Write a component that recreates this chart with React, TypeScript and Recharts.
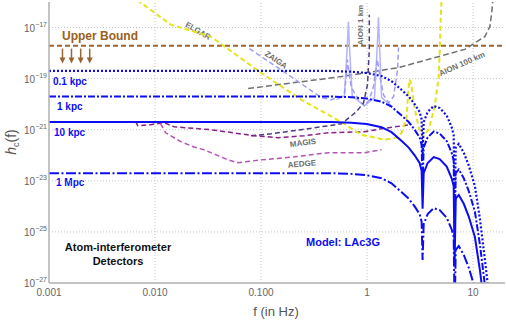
import React from "react";
import { ComposedChart, Line, Scatter, XAxis, YAxis, ReferenceLine } from "recharts";

// axes
const xTicks = [0.001, 0.01, 0.1, 1, 10];
const xTickLabels = ["0.001", "0.010", "0.100", "1", "10"];
const yTicks = [1e-27, 1e-25, 1e-23, 1e-21, 1e-19, 1e-17];
const xGrid = [0.01, 0.1, 1, 10];
const yGrid = [1e-25, 1e-23, 1e-21, 1e-19, 1e-17];

// LAc3G source spectra (Hz, strain)
const srcFreq = [0.001, 0.01, 0.1, 0.46, 0.71, 0.99, 1.37, 1.7, 2.12, 2.47, 2.81, 3.13, 3.27, 3.34, 3.42, 3.73, 4.25, 4.84, 5.64, 6.28, 6.56, 6.7, 6.86, 7.33, 8.17, 9.1, 10.4, 11.6, 12.6, 13.8, 15];
const h01kpc = [2e-19, 2e-19, 2e-19, 2e-19, 1.87e-19, 1.66e-19, 1.26e-19, 8.0e-20, 3.6e-20, 2.0e-20, 1.0e-20, 5.0e-21, 2.5e-21, 8.0e-23, 2.0e-21, 5.0e-21, 8.5e-21, 7.1e-21, 3.6e-21, 1.26e-21, 6.3e-22, 6.3e-25, 2.0e-22, 2.8e-22, 1.26e-22, 4.0e-23, 6.3e-24, 3.2e-25, 2.0e-26, 8.0e-28, 3.2e-29];
const h1kpc = [2e-20, 2e-20, 2e-20, 2e-20, 1.87e-20, 1.66e-20, 1.26e-20, 8.0e-21, 3.6e-21, 2.0e-21, 1.0e-21, 5.0e-22, 2.5e-22, 8.0e-24, 2.0e-22, 5.0e-22, 8.5e-22, 7.1e-22, 3.6e-22, 1.26e-22, 6.3e-23, 6.3e-26, 2.0e-23, 2.8e-23, 1.26e-23, 4.0e-24, 6.3e-25, 3.2e-26, 2.0e-27, 8.0e-29, 3.2e-30];
const h10kpc = [2e-21, 2e-21, 2e-21, 2e-21, 1.87e-21, 1.66e-21, 1.26e-21, 8.0e-22, 3.6e-22, 2.0e-22, 1.0e-22, 5.0e-23, 2.5e-23, 8.0e-25, 2.0e-23, 5.0e-23, 8.5e-23, 7.1e-23, 3.6e-23, 1.26e-23, 6.3e-24, 6.3e-27, 2.0e-24, 2.8e-24, 1.26e-24, 4.0e-25, 6.3e-26, 3.2e-27, 2.0e-28, 8.0e-30, 3.2e-31];
const h1Mpc = [2e-23, 2e-23, 2e-23, 2e-23, 1.87e-23, 1.66e-23, 1.26e-23, 8.0e-24, 3.6e-24, 2.0e-24, 1.0e-24, 5.0e-25, 2.5e-25, 8.0e-27, 2.0e-25, 5.0e-25, 8.5e-25, 7.1e-25, 3.6e-25, 1.26e-25, 6.3e-26, 6.3e-29, 2.0e-26, 2.8e-26, 1.26e-26, 4.0e-27, 6.3e-28, 3.2e-29, 2.0e-30, 8.0e-32, 3.2e-33];

// upper bound
const boundFreq = [0.001, 20];
const boundH = [1.95e-18, 1.95e-18];
const arrowFreq = [0.00134, 0.00163, 0.00199, 0.00242];
const arrowH = [1.5e-18, 1.5e-18, 1.5e-18, 1.5e-18];

// detector sensitivity curves
const elgarFreq = [0.0068, 0.0141, 0.0337, 0.1, 0.239, 0.573, 0.885, 1.46, 1.9, 2.12, 2.36, 2.47, 2.52, 2.62, 2.75, 3.06, 3.34, 3.81, 4.34, 4.74, 4.85, 4.95, 5.06];
const elgarH = [1.2e-16, 1.3e-17, 4.4e-18, 1.7e-19, 1.5e-20, 2e-21, 6.3e-22, 4.1e-22, 4.9e-22, 7.6e-22, 3.2e-21, 4.9e-20, 9.1e-20, 5.8e-20, 1.1e-20, 1.3e-21, 5.4e-22, 1e-21, 7.9e-21, 1.2e-19, 1.4e-18, 2e-17, 2e-16];

const zaigaFreq = [0.0776, 0.173, 0.371, 0.46, 0.573, 0.613, 0.638, 0.652, 0.68, 0.71, 0.83, 0.944, 1.05, 1.15, 1.25, 1.34, 1.43, 1.6, 1.78, 1.94, 1.98];
const zaigaH = [1.5e-18, 1.6e-19, 1.8e-20, 1.5e-20, 2e-20, 2.8e-20, 1.45e-19, 5.6e-19, 1.45e-19, 4.5e-20, 1.5e-20, 8.7e-21, 1.5e-20, 4.9e-20, 5.6e-19, 9.1e-20, 2.3e-20, 1.15e-20, 2e-20, 2.2e-19, 1.65e-18];

const zaigaResFreq = [0.514, 0.611, 0.652, 0.667, 0.68, 0.725, 0.944, 1.175, 1.25, 1.28, 1.31, 1.37, 1.7];
const zaigaResH = [1.5e-20, 2.1e-20, 2.15e-18, 1.7e-17, 2.15e-18, 2.1e-20, 8.7e-21, 1.8e-20, 2.15e-18, 2.5e-17, 2.15e-18, 1.8e-20, 8.7e-21];

const aion1Freq = [0.0805, 0.125, 0.239, 0.573, 0.794, 0.925, 1.01, 1.05, 1.05];
const aion1H = [5.8e-22, 7e-22, 1e-21, 1.7e-21, 5.1e-21, 1.1e-20, 5.8e-20, 1.4e-18, 3.2e-17];

const aion100Freq = [0.0755, 0.573, 1.98, 8.36, 12.9, 14.4, 15.0, 15.3];
const aion100H = [4.1e-20, 1.2e-19, 2.7e-19, 1.4e-18, 4.4e-18, 1.1e-17, 3.9e-17, 1e-16];

const magisFreq = [0.00658, 0.00686, 0.00912, 0.0121, 0.0151, 0.0337, 0.0861, 0.145, 0.256, 0.431, 0.944, 1.37, 2.63];
const magisH = [2.05e-21, 1.44e-21, 1.58e-21, 1.9e-21, 1.3e-21, 1e-21, 5.8e-22, 4.9e-22, 5.8e-22, 7.6e-22, 8.3e-22, 1.1e-21, 1.6e-21];

const aedgeFreq = [0.0113, 0.0126, 0.0175, 0.0233, 0.029, 0.0489, 0.0607, 0.0997, 0.206, 0.431, 0.944, 1.37];
const aedgeH = [1.7e-21, 7.6e-22, 3.4e-22, 2.1e-22, 1.64e-22, 6.6e-23, 5.1e-23, 6.6e-23, 8.7e-23, 1.26e-22, 1.26e-22, 1.64e-22];

const pts = (fs: number[], hs: number[]) => fs.map((f, i) => ({ f, h: hs[i] }));

const FONT = "Liberation Sans, Arial, sans-serif";
const BLUE = "#0c0cf5";

const XTick = ({ x, y, payload }: any) => {
  const i = xTicks.indexOf(payload.value);
  return (
    <text x={x} y={y} dy={9} textAnchor="middle" fill="#666" fontSize={10} fontFamily={FONT}>
      {xTickLabels[i]}
    </text>
  );
};

const YTick = ({ x, y, payload }: any) => {
  const e = Math.round(Math.log10(payload.value));
  return (
    <text x={x} y={y} dy={4} textAnchor="end" fill="#666" fontSize={10} fontFamily={FONT}>
      10<tspan dy={-5} fontSize={7}>{"\u2212" + Math.abs(e)}</tspan>
    </text>
  );
};

const Arrow = (props: any) => {
  const { cx, cy } = props;
  return (
    <g>
      <line x1={cx} y1={cy} x2={cx} y2={cy + 10} stroke="#996633" strokeWidth={1.5} />
      <path d={`M${cx - 3},${cy + 9} L${cx + 3},${cy + 9} L${cx},${cy + 15} Z`} fill="#996633" />
    </g>
  );
};

const lbl = (x: number, y: number, rot: number, t: string) => (
  <text
    key={t}
    x={x}
    y={y}
    transform={`rotate(${rot} ${x} ${y})`}
    textAnchor="middle"
    dominantBaseline="central"
    fill="#6e6e6e"
    fontSize={8}
    fontWeight="bold"
    fontFamily={FONT}
  >
    {t}
  </text>
);

export default function App() {
  return (
    <div style={{ width: 506, height: 321 }}>
      <style>{`body{margin:0}`}</style>
      <ComposedChart width={506} height={321} margin={{ top: 2, right: 1, bottom: 0, left: 0 }}>
        <XAxis
          dataKey="f"
          type="number"
          scale="log"
          domain={[0.001, 20]}
          allowDataOverflow
          ticks={xTicks}
          tick={<XTick />}
          tickLine={false}
          tickSize={0}
          tickMargin={4}
          height={38}
          axisLine={{ stroke: "#b0b0b0", strokeWidth: 1.5 }}
        />
        <XAxis xAxisId="top" orientation="top" type="number" domain={[0, 1]} height={0} tick={false} tickLine={false} axisLine={{ stroke: "#b0b0b0", strokeWidth: 1 }} />
        <YAxis
          dataKey="h"
          type="number"
          scale="log"
          domain={[1e-27, 1e-16]}
          allowDataOverflow
          ticks={yTicks}
          tick={<YTick />}
          tickLine={false}
          tickSize={0}
          tickMargin={2}
          width={49}
          axisLine={{ stroke: "#b0b0b0", strokeWidth: 1.5 }}
        />
        <YAxis yAxisId="right" orientation="right" type="number" domain={[0, 1]} width={0} tick={false} tickLine={false} axisLine={{ stroke: "#b0b0b0", strokeWidth: 1 }} />

        {xGrid.map((v) => (
          <ReferenceLine key={"x" + v} x={v} stroke="#c4c4c4" strokeDasharray="1 2" />
        ))}
        {yGrid.map((v) => (
          <ReferenceLine key={"y" + v} y={v} stroke="#c4c4c4" strokeDasharray="1 2" />
        ))}

        <Line data={pts(boundFreq, boundH)} dataKey="h" stroke="#996633" strokeWidth={2} strokeDasharray="5 3" dot={false} isAnimationActive={false} />
        <Scatter data={pts(arrowFreq, arrowH)} dataKey="h" shape={<Arrow />} isAnimationActive={false} />

        <Line data={pts(aion100Freq, aion100H)} dataKey="h" stroke="#707070" strokeWidth={1.5} strokeDasharray="6 3" dot={false} isAnimationActive={false} />
        <Line data={pts(zaigaResFreq, zaigaResH)} dataKey="h" stroke="#b4b4ff" strokeWidth={1.5} dot={false} isAnimationActive={false} />
        <Line data={pts(zaigaFreq, zaigaH)} dataKey="h" stroke="#9c9cf2" strokeWidth={1.5} strokeDasharray="5 3" dot={false} isAnimationActive={false} />
        <Line data={pts(aion1Freq, aion1H)} dataKey="h" stroke="#4c3c88" strokeWidth={1.5} strokeDasharray="5 3" dot={false} isAnimationActive={false} />
        <Line data={pts(magisFreq, magisH)} dataKey="h" stroke="#8a1f8a" strokeWidth={1.5} strokeDasharray="5 3" dot={false} isAnimationActive={false} />
        <Line data={pts(aedgeFreq, aedgeH)} dataKey="h" stroke="#b455b4" strokeWidth={1.5} strokeDasharray="5 3" dot={false} isAnimationActive={false} />
        <Line data={pts(elgarFreq, elgarH)} dataKey="h" stroke="#e4e41c" strokeWidth={2} strokeDasharray="5 3" dot={false} isAnimationActive={false} />

        <Line data={pts(srcFreq, h01kpc)} dataKey="h" stroke={BLUE} strokeWidth={2.2} strokeDasharray="2 2" dot={false} isAnimationActive={false} />
        <Line data={pts(srcFreq, h1kpc)} dataKey="h" stroke={BLUE} strokeWidth={2} strokeDasharray="7 2 2 2" dot={false} isAnimationActive={false} />
        <Line data={pts(srcFreq, h10kpc)} dataKey="h" stroke={BLUE} strokeWidth={2} dot={false} isAnimationActive={false} />
        <Line data={pts(srcFreq, h1Mpc)} dataKey="h" stroke={BLUE} strokeWidth={2} strokeDasharray="10 2.5 2 2.5" dot={false} isAnimationActive={false} />

        <text x={62} y={40} fill="#9a6020" fontSize={12} fontWeight="bold" fontFamily={FONT}>Upper Bound</text>
        <text x={53} y={85} fill={BLUE} fontSize={10} fontWeight="bold" fontFamily={FONT}>0.1 kpc</text>
        <text x={57} y={110} fill={BLUE} fontSize={10} fontWeight="bold" fontFamily={FONT}>1 kpc</text>
        <text x={54} y={136} fill={BLUE} fontSize={10} fontWeight="bold" fontFamily={FONT}>10 kpc</text>
        <text x={56} y={186} fill={BLUE} fontSize={10} fontWeight="bold" fontFamily={FONT}>1 Mpc</text>
        <text x={118} y={251} textAnchor="middle" fill="#111" fontSize={11} fontWeight="bold" fontFamily={FONT}>Atom-interferometer</text>
        <text x={118} y={265} textAnchor="middle" fill="#111" fontSize={11} fontWeight="bold" fontFamily={FONT}>Detectors</text>
        <text x={343} y={246} textAnchor="middle" fill={BLUE} fontSize={11} fontWeight="bold" fontFamily={FONT}>Model: LAc3G</text>
        <text x={276} y={316} textAnchor="middle" fill="#555" fontSize={13} fontFamily={FONT}>f (in Hz)</text>
        <text x={16} y={142} transform="rotate(-90 16 142)" textAnchor="middle" fill="#555" fontSize={14} fontFamily={FONT}>
          <tspan fontStyle="italic">h</tspan>
          <tspan fontSize={9} dy={3}>c</tspan>
          <tspan dy={-3}>(f)</tspan>
        </text>
        {lbl(198, 31, 30, "ELGAR")}
        {lbl(276, 60, 35, "ZAIGA")}
        {lbl(360, 25, -90, "AION 1 km")}
        {lbl(462, 64, -24, "AION 100 km")}
        {lbl(303, 143, -8, "MAGIS")}
        {lbl(302, 164, -5, "AEDGE")}
      </ComposedChart>
    </div>
  );
}
